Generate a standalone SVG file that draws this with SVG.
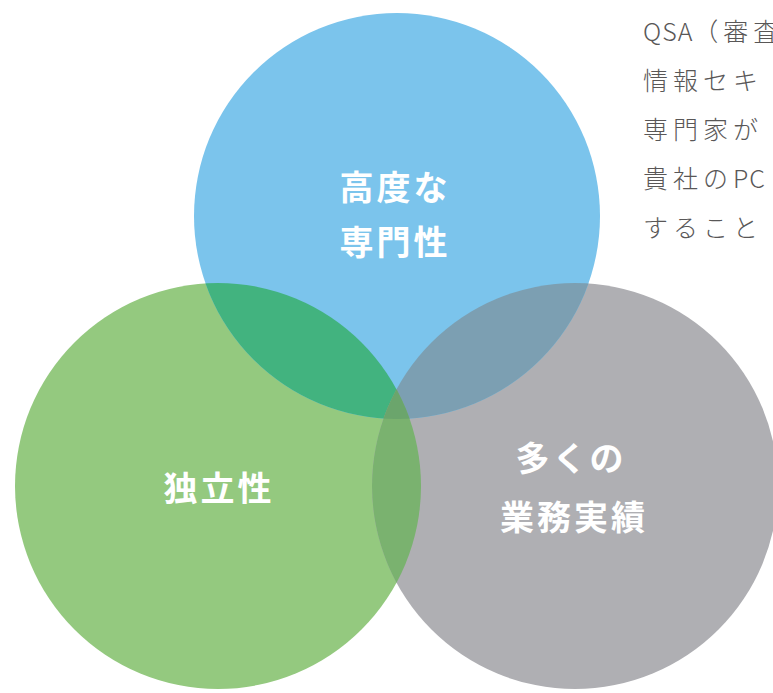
<svg xmlns="http://www.w3.org/2000/svg" width="773" height="693" viewBox="0 0 773 693">
<style>
.lbl{font-family:"Noto Sans CJK JP","Noto Sans",sans-serif;font-weight:700;font-size:34px;fill:#ffffff;letter-spacing:3px;text-anchor:middle}
.desc{font-family:"Noto Sans CJK JP","Noto Sans",sans-serif;font-weight:300;font-size:25px;fill:#595757;letter-spacing:5px}
.lat{letter-spacing:1px}
</style>
<defs>
<clipPath id="cB"><circle cx="397" cy="216" r="203"/></clipPath>
<clipPath id="cG"><circle cx="218" cy="486" r="203"/></clipPath>
</defs>
<rect width="773" height="693" fill="#ffffff"/>
<g id="nodes">
<g id="green"><circle cx="218" cy="486" r="203" fill="#94C97F"/></g>
<g id="gray"><circle cx="575" cy="486" r="203" fill="#AFAFB3"/></g>
<g id="blue"><circle cx="397" cy="216" r="203" fill="#7BC4EC"/></g>
<g id="overlaps">
<g clip-path="url(#cB)"><circle cx="218" cy="486" r="203" fill="#42B37F"/></g>
<g clip-path="url(#cB)"><circle cx="575" cy="486" r="203" fill="#7C9FB2"/></g>
<g clip-path="url(#cG)"><circle cx="575" cy="486" r="203" fill="#7AB26F"/></g>
<g clip-path="url(#cB)"><g clip-path="url(#cG)"><circle cx="575" cy="486" r="203" fill="#6BA56C"/></g></g>
</g>
</g>
<g id="labels">
<text class="lbl" x="395" y="200">高度な</text>
<text class="lbl" x="395" y="255">専門性</text>
<text class="lbl" x="219" y="501">独立性</text>
<text class="lbl" x="571" y="471">多くの</text>
<text class="lbl" x="574" y="530">業務実績</text>
</g>
<g id="description">
<text class="desc" x="643" y="41"><tspan class="lat">QSA</tspan>（審査</text>
<text class="desc" x="643" y="90">情報セキ</text>
<text class="desc" x="643" y="139">専門家が</text>
<text class="desc" x="643" y="188">貴社の<tspan class="lat">PC</tspan></text>
<text class="desc" x="643" y="237">すること</text>
</g>
</svg>
